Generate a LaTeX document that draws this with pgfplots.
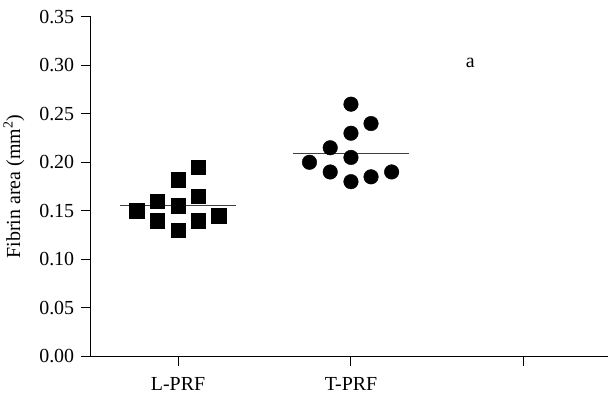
\documentclass[border=0pt]{standalone}
\usepackage{pgfplots}
\pgfplotsset{compat=1.18}
\usepackage{fontspec}
\setmainfont{Liberation Serif}
\begin{document}
\fontsize{20}{24}\selectfont
\begin{tikzpicture}
\begin{axis}[
  scale only axis,
  width=517bp, height=339bp,
  xmin=0.497, xmax=3.486,
  ymin=0, ymax=0.35,
  axis x line*=bottom, axis y line*=left,
  axis line style={line width=1bp, -},
  xtick={1,2,3}, xticklabels={L-PRF,T-PRF,},
  ytick={0,0.05,...,0.351},
  tick align=outside,
  major tick length=10bp,
  tick style={line width=1bp, black},
  /pgf/number format/assume math mode=true,
  yticklabel style={/pgf/number format/fixed, /pgf/number format/fixed zerofill, /pgf/number format/precision=2},
  xticklabel style={yshift=-5bp},
  scaled y ticks=false,
  every axis y label/.style={at={(axis description cs:-0.149,0.50)}, rotate=90, anchor=center},
  ylabel={Fibrin area (mm\textsuperscript{2})},
  clip=false,
]
\coordinate (bl) at (rel axis cs:0,0);
\coordinate (tr) at (rel axis cs:1,1);
\addplot[only marks, mark=square*, mark size=7.3bp, black] coordinates {
 (0.761,0.150) (0.879,0.160) (0.879,0.140) (1,0.182) (1,0.155) (1,0.130)
 (1.117,0.195) (1.117,0.165) (1.117,0.140) (1.236,0.145)
};
\addplot[only marks, mark=*, mark size=7.3bp, black] coordinates {
 (2,0.260) (2.116,0.240) (2,0.230) (1.880,0.215) (2,0.205) (1.760,0.200)
 (1.880,0.190) (2,0.180) (2.116,0.185) (2.235,0.190)
};
\addplot[line width=1.3bp, black!75, no marks] coordinates {(0.665,0.1555) (1.335,0.1555)};
\addplot[line width=1.3bp, black!75, no marks] coordinates {(1.667,0.2093) (2.333,0.2093)};
\node at (axis cs:2.69,0.3025) {a};
\end{axis}
\pgfresetboundingbox
\useasboundingbox ([xshift=-91bp,yshift=-44bp]bl) rectangle ([yshift=17bp]tr);
\end{tikzpicture}
\end{document}
